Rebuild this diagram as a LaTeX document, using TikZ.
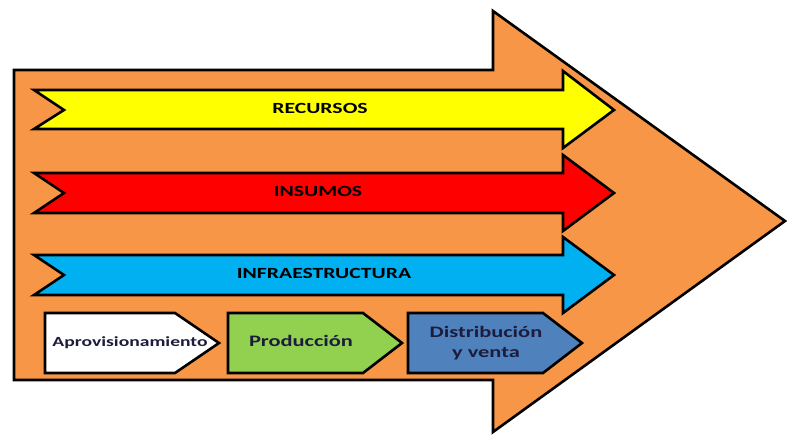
\documentclass[tikz,border=0pt]{standalone}
\usepackage{fontspec}
\setmainfont{Carlito}
\newfontfamily\widefont[FakeStretch=1.4]{Carlito}
\definecolor{bigorange}{HTML}{F79646}
\definecolor{ayellow}{HTML}{FFFF00}
\definecolor{ared}{HTML}{FF0000}
\definecolor{ablue}{HTML}{00B0F0}
\definecolor{pgreen}{HTML}{92D050}
\definecolor{psteel}{HTML}{4F81BD}
\definecolor{ptext}{HTML}{1C1C3C}
\tikzset{
  shapeline/.style={draw=black, line width=2.6pt, line join=miter},
  bandlabel/.style={font=\widefont\bfseries\fontsize{15.5}{18}\selectfont, text=black, inner sep=0pt},
  proclabel/.style={font=\widefont\bfseries\fontsize{16}{20}\selectfont, text=ptext, inner sep=0pt, align=center},
}
\begin{document}
\begin{tikzpicture}[x=1pt,y=-1pt]
\useasboundingbox (0,0) rectangle (788,436);
% big orange arrow
\draw[shapeline, fill=bigorange] (14,70) -- (493,70) -- (493,11) -- (785,221) -- (493,432) -- (493,380) -- (14,380) -- cycle;
% band arrows
\draw[shapeline, fill=ayellow] (34,90) -- (563,90) -- (563,71) -- (614,110) -- (563,148) -- (563,129) -- (34,129) -- (64,110) -- cycle;
\draw[shapeline, fill=ared] (34,173) -- (563,173) -- (563,155) -- (614,193) -- (563,231) -- (563,213) -- (34,213) -- (64,193) -- cycle;
\draw[shapeline, fill=ablue] (34,255) -- (563,255) -- (563,237) -- (614,275) -- (563,313) -- (563,295) -- (34,295) -- (64,275) -- cycle;
\node[bandlabel] (recursos) at (320,108) {RECURSOS};
\node[bandlabel] (insumos) at (318,191) {INSUMOS};
\node[bandlabel] (infra) at (324,273) {INFRAESTRUCTURA};
% process chevrons
\draw[shapeline, fill=white] (45,313) -- (175,313) -- (219,343) -- (175,373) -- (45,373) -- cycle;
\draw[shapeline, fill=pgreen] (228,313) -- (363,313) -- (402,343) -- (363,373) -- (228,373) -- cycle;
\draw[shapeline, fill=psteel] (408,313) -- (543,313) -- (582,343) -- (543,373) -- (408,373) -- cycle;
\node[proclabel, font=\widefont\bfseries\fontsize{14}{18}\selectfont] (aprov) at (130,343) {Aprovisionamiento};
\node[proclabel] (prod) at (301,341) {Producción};
\node[proclabel] (dist) at (486,343) {Distribución\\y venta};
\end{tikzpicture}
\end{document}
